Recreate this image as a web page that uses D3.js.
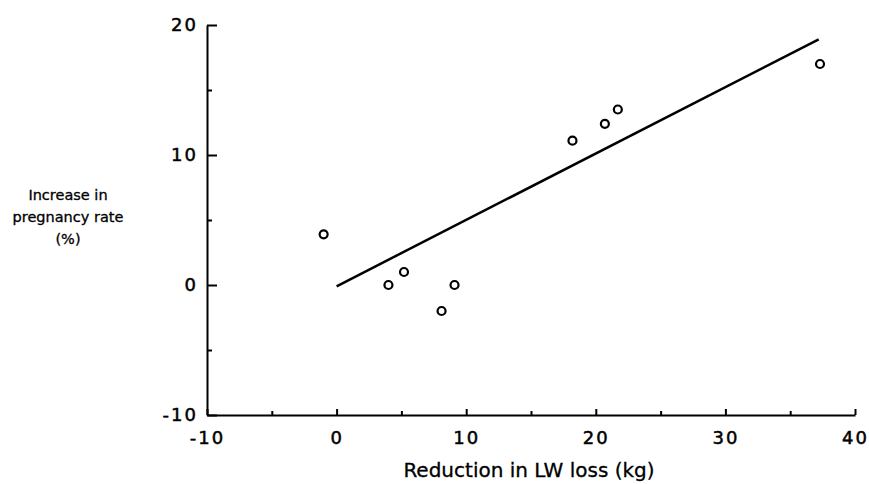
<!DOCTYPE html>
<html>
<head>
<meta charset="utf-8">
<script src="https://cdn.jsdelivr.net/npm/d3@7"></script>
<style>
  body { margin: 0; background: #fff; }
  svg { display: block; }
  .axis path, .axis line { stroke: #000; stroke-width: 2; }
  .axis text { font-family: "DejaVu Sans", sans-serif; font-size: 18px; letter-spacing: 2px; fill: #000; stroke: #000; stroke-width: 0.5px; }
  .title { font-family: "DejaVu Sans", sans-serif; fill: #000; stroke: #000; stroke-width: 0.3px; }
</style>
</head>
<body>
<svg width="869" height="484"></svg>
<script>
var svg = d3.select("svg");

// data
var lwReduction = [-1, 4, 5.2, 8.1, 9.1, 18.2, 20.7, 21.7, 37.3];
var pregIncrease = [3.9, 0, 1.0, -2.0, 0, 11.1, 12.4, 13.5, 17.0];
var fitX = [0, 37.2];
var fitY = [-0.1, 18.9];
var xTicks = [-10, 0, 10, 20, 30, 40];
var xMinor = [-5, 5, 15, 25, 35];
var yTicks = [-10, 0, 10, 20];
var yMinor = [-5, 5, 15];

var x = d3.scaleLinear().domain([-10, 40]).range([207, 855]);
var y = d3.scaleLinear().domain([-10, 20]).range([415, 25]);

// plain hyphen for negatives, as in the original
var fmt = function(d) { return String(d); };

// x axis
var gx = svg.append("g").attr("class", "axis").attr("transform", "translate(0,415)");
gx.call(d3.axisBottom(x).tickValues(xTicks).tickSizeInner(-6).tickSizeOuter(0).tickPadding(16).tickFormat(fmt));
svg.append("g").attr("class", "axis").attr("transform", "translate(0,415)")
  .call(d3.axisBottom(x).tickValues(xMinor).tickSizeInner(-4).tickSizeOuter(0).tickFormat(""))
  .select(".domain").remove();

// y axis
var gy = svg.append("g").attr("class", "axis").attr("transform", "translate(207,0)");
gy.call(d3.axisLeft(y).tickValues(yTicks).tickSizeInner(-10).tickSizeOuter(0).tickPadding(9).tickFormat(fmt));
svg.append("g").attr("class", "axis").attr("transform", "translate(207,0)")
  .call(d3.axisLeft(y).tickValues(yMinor).tickSizeInner(-5).tickSizeOuter(0).tickFormat(""))
  .select(".domain").remove();

// regression line
var line = d3.line().x(function(d) { return x(d[0]); }).y(function(d) { return y(d[1]); });
svg.append("path")
  .datum(d3.zip(fitX, fitY))
  .attr("d", line)
  .attr("fill", "none")
  .attr("stroke", "#000")
  .attr("stroke-width", 2.5);

// points
svg.append("g").selectAll("circle")
  .data(d3.zip(lwReduction, pregIncrease))
  .enter()
  .append("circle")
  .attr("cx", function(d) { return x(d[0]); })
  .attr("cy", function(d) { return y(d[1]); })
  .attr("r", 4)
  .attr("fill", "#fff")
  .attr("stroke", "#000")
  .attr("stroke-width", 2.2);

// axis titles
svg.append("text").attr("class", "title")
  .attr("x", 529).attr("y", 477)
  .attr("text-anchor", "middle")
  .style("font-size", "20px")
  .text("Reduction in LW loss (kg)");

var yTitle = ["Increase in", "pregnancy rate", "(%)"];
svg.append("g").selectAll("text")
  .data(yTitle)
  .enter()
  .append("text").attr("class", "title")
  .attr("x", 68)
  .attr("y", function(d, i) { return 200 + i * 22; })
  .attr("text-anchor", "middle")
  .style("font-size", "14.5px")
  .text(function(d) { return d; });
</script>
</body>
</html>
